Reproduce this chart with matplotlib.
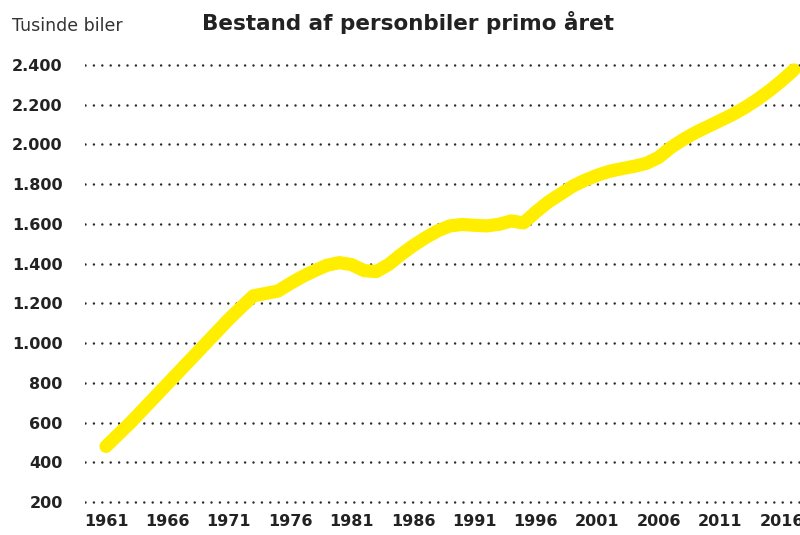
import matplotlib.pyplot as plt

# Bestand af personbiler primo året (tusinde biler)
years = list(range(1961, 2018))
cars = [480, 540, 600, 665, 730, 795, 860, 925, 990, 1055,
        1120, 1180, 1238, 1250, 1262, 1300, 1335, 1365, 1392, 1405,
        1395, 1365, 1360, 1395, 1445, 1490, 1530, 1565, 1590, 1597,
        1593, 1590, 1598, 1615, 1605, 1660, 1710, 1750, 1790, 1820,
        1845, 1865, 1878, 1890, 1905, 1935, 1985, 2025, 2060, 2090,
        2120, 2150, 2185, 2225, 2270, 2320, 2375]

xtick_years = list(range(1961, 2017, 5))
yticks = list(range(200, 2401, 200))
ytick_labels = ['{:,}'.format(v).replace(',', '.') for v in yticks]

fig = plt.figure(figsize=(8, 5.35), dpi=100)
ax = fig.add_axes([0.10625, 0.0542, 0.89375, 0.8318])

ax.plot(years, cars, color='#FFEE00', linewidth=9.5,
        solid_capstyle='round', solid_joinstyle='round', zorder=3, clip_on=False)

ax.set_xlim(1959.29, 2017.5)
ax.set_ylim(180, 2420)
ax.set_yticks(yticks)
ax.set_yticklabels(ytick_labels)
ax.set_xticks(xtick_years)
ax.set_xticklabels([str(y) for y in xtick_years])

# dotted horizontal guides
ax.yaxis.grid(True, color='#2a2a2a', linewidth=1.8, linestyle=(0, (0.01, 3.35)),
              dash_capstyle='round', zorder=1)
ax.xaxis.grid(False)
for s in ax.spines.values():
    s.set_visible(False)
ax.tick_params(axis='y', length=0, pad=16, labelsize=11.5, labelcolor='#222222')
ax.tick_params(axis='x', length=0, pad=6, labelsize=11.5, labelcolor='#222222')
for lab in ax.get_xticklabels() + ax.get_yticklabels():
    lab.set_fontweight('bold')

fig.text(0.51, 0.958, 'Bestand af personbiler primo året', ha='center', va='center',
         fontsize=15.5, fontweight='bold', color='#222222')
fig.text(0.015, 0.952, 'Tusinde biler', ha='left', va='center',
         fontsize=12.5, color='#333333')

fig.savefig('out.png', dpi=100)
